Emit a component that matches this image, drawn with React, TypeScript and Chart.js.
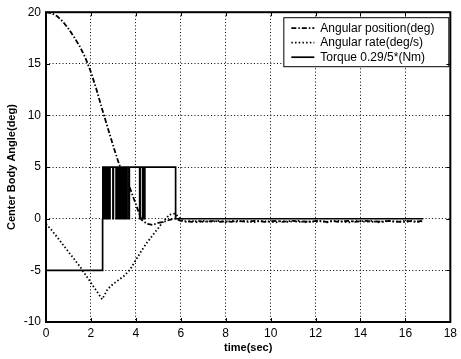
import React, { useEffect, useRef } from 'react';
import { Chart, registerables } from 'chart.js';

Chart.register(...registerables);
Chart.defaults.font.family = '"Liberation Sans", Arial, sans-serif';

// Sample times for the attitude response (s)
const timeSec = [
  0, 0.25, 0.5, 0.75, 1, 1.25, 1.5, 1.75, 2, 2.25, 2.5, 2.75, 3, 3.25, 3.5, 3.75,
  4, 4.25, 4.5, 4.75, 5, 5.25, 5.5, 5.75, 6,
  6.25, 6.5, 6.75, 7, 7.25, 7.5, 7.75, 8, 8.25, 8.5, 8.75, 9, 9.25, 9.5, 9.75,
  10, 10.25, 10.5, 10.75, 11, 11.25, 11.5, 11.75, 12, 12.25, 12.5, 12.75,
  13, 13.25, 13.5, 13.75, 14, 14.25, 14.5, 14.75, 15, 15.25, 15.5, 15.75,
  16, 16.25, 16.5, 16.75,
];

// Angular position (deg)
const positionDeg = [
  20.0, 19.9, 19.6, 19.1, 18.4, 17.6, 16.7, 15.6, 14.2, 12.5, 10.6, 8.8, 7.0, 5.3, 4.1, 2.9,
  1.4, -0.1, -0.5, -0.6, -0.4, -0.3, -0.1, 0.0, -0.2,
  -0.25, -0.3, -0.2, -0.3, -0.25, -0.2, -0.3, -0.25, -0.3, -0.2, -0.25, -0.3, -0.2, -0.25,
  -0.3, -0.25, -0.2, -0.3, -0.25, -0.2, -0.3, -0.25, -0.3, -0.2, -0.25, -0.3, -0.2,
  -0.3, -0.25, -0.2, -0.3, -0.25, -0.2, -0.3, -0.25, -0.3, -0.2, -0.25, -0.3, -0.2,
  -0.25, -0.3, -0.2,
];

// Angular rate (deg/s)
const rateDegS = [
  -0.5, -1.1, -1.8, -2.5, -3.2, -3.9, -4.6, -5.4, -6.2, -7.0, -7.8, -6.8, -6.3, -5.9, -5.5, -4.9,
  -4.0, -3.1, -2.3, -1.6, -0.9, -0.2, 0.4, 0.5, -0.1,
  -0.3, -0.2, -0.35, -0.2, -0.3, -0.25, -0.2, -0.35, -0.2, -0.3, -0.2, -0.25, -0.35, -0.2,
  -0.25, -0.3, -0.35, -0.2, -0.3, -0.25, -0.2, -0.35, -0.25, -0.3, -0.2, -0.35, -0.25,
  -0.2, -0.3, -0.35, -0.2, -0.25, -0.3, -0.2, -0.35, -0.25, -0.2, -0.3, -0.25, -0.35,
  -0.2, -0.3, -0.25,
];

// Scaled torque switching instants (s); each level is held until the next instant
const torqueTimeSec = [
  0, 2.52, 2.53, 2.55, 2.57, 2.59, 2.61, 2.63, 2.65, 2.67, 2.69, 2.71, 2.73, 2.75, 2.77, 2.79,
  2.81, 2.83, 2.85, 2.98, 3.0, 3.12, 3.14, 3.16, 3.18, 3.2, 3.22, 3.24, 3.26, 3.28, 3.3,
  3.35, 3.37, 3.39, 3.41, 3.43, 3.45, 3.47, 3.49, 3.51, 3.53, 3.55, 3.57, 3.59, 3.61,
  3.69, 3.71, 4.17, 4.19, 4.3, 4.32, 4.39, 4.4, 5.77, 16.8,
];
const torqueScaled = [
  -5, 0, 5, 0, 5, 0, 5, 0, 5, 0, 5, 0, 5, 0, 5, 0,
  5, 0, 5, 0, 5, 0, 5, 0, 5, 0, 5, 0, 5, 0, 5,
  0, 5, 0, 5, 0, 5, 0, 5, 0, 5, 0, 5, 0, 5,
  0, 5, 0, 5, 0, 5, 0, 5, 0, 0,
];

const seriesLabels = ['Angular position(deg)', 'Angular rate(deg/s)', 'Torque 0.29/5*(Nm)'];
const xTickValues = [0, 2, 4, 6, 8, 10, 12, 14, 16, 18];
const yTickValues = [-10, -5, 0, 5, 10, 15, 20];

const dashDot = [5, 2, 1.5, 2];
const dotted = [1.5, 2.2];

// Boxed legend in the upper-right corner of the plot area
const legendBoxPlugin = {
  id: 'legendBox',
  afterDatasetsDraw(chart: any) {
    const { ctx, chartArea } = chart;
    const right = chartArea.right - 1;
    const left = right - 166;
    const top = chartArea.top + 5;
    const height = 49;
    ctx.save();
    ctx.fillStyle = '#fff';
    ctx.fillRect(left, top, right - left, height);
    ctx.strokeStyle = '#000';
    ctx.lineWidth = 1;
    ctx.setLineDash([]);
    ctx.strokeRect(left + 0.5, top + 0.5, right - left - 1, height);
    ctx.font = '12px "Liberation Sans", Arial, sans-serif';
    ctx.textBaseline = 'middle';
    ctx.textAlign = 'left';
    ctx.fillStyle = '#000';
    chart.data.datasets.forEach((ds: any, i: number) => {
      const y = top + 11 + i * 14.5;
      ctx.beginPath();
      ctx.setLineDash(ds.borderDash || []);
      ctx.lineWidth = ds.borderWidth;
      ctx.moveTo(left + 8, y);
      ctx.lineTo(left + 31, y);
      ctx.stroke();
      ctx.setLineDash([]);
      ctx.fillText(ds.label, left + 37, y);
    });
    ctx.restore();
  },
};

// Plot frame with inward tick marks on all four sides
const framePlugin = {
  id: 'frame',
  afterDraw(chart: any) {
    const { ctx, chartArea, scales } = chart;
    const { left, right, top, bottom } = chartArea;
    ctx.save();
    ctx.strokeStyle = '#000';
    ctx.setLineDash([]);
    ctx.lineWidth = 1;
    ctx.beginPath();
    xTickValues.forEach((v) => {
      const x = Math.round(scales.x.getPixelForValue(v)) + 0.5;
      ctx.moveTo(x, bottom);
      ctx.lineTo(x, bottom - 4);
      ctx.moveTo(x, top);
      ctx.lineTo(x, top + 4);
    });
    yTickValues.forEach((v) => {
      const y = Math.round(scales.y.getPixelForValue(v)) + 0.5;
      ctx.moveTo(left, y);
      ctx.lineTo(left + 4, y);
      ctx.moveTo(right, y);
      ctx.lineTo(right - 4, y);
    });
    ctx.stroke();
    ctx.lineWidth = 2;
    ctx.strokeRect(left, top, right - left, bottom - top);
    ctx.restore();
  },
};

export default function App() {
  const canvasRef = useRef<HTMLCanvasElement>(null);

  useEffect(() => {
    const canvas = canvasRef.current;
    if (!canvas) return;
    const chart = new Chart(canvas, {
      type: 'line',
      data: {
        datasets: [
          {
            label: seriesLabels[0],
            data: timeSec.map((t, i) => ({ x: t, y: positionDeg[i] })),
            borderColor: '#000',
            borderWidth: 1.8,
            borderDash: dashDot,
            pointRadius: 0,
            fill: false,
          },
          {
            label: seriesLabels[1],
            data: timeSec.map((t, i) => ({ x: t, y: rateDegS[i] })),
            borderColor: '#000',
            borderWidth: 1.8,
            borderDash: dotted,
            pointRadius: 0,
            fill: false,
          },
          {
            label: seriesLabels[2],
            data: torqueTimeSec.map((t, i) => ({ x: t, y: torqueScaled[i] })),
            borderColor: '#000',
            borderWidth: 1.7,
            stepped: 'before',
            pointRadius: 0,
            fill: false,
          },
        ],
      },
      options: {
        animation: false,
        responsive: false,
        devicePixelRatio: 1,
        layout: { padding: { top: 9, right: 6, left: 0, bottom: 0 } },
        plugins: { legend: { display: false }, tooltip: { enabled: false } },
        scales: {
          x: {
            type: 'linear',
            min: 0,
            max: 18,
            afterBuildTicks: (scale: any) => {
              scale.ticks = xTickValues.map((v) => ({ value: v }));
            },
            afterFit: (scale: any) => {
              scale.height = 37;
            },
            ticks: { color: '#000', font: { size: 12 }, padding: 4, maxRotation: 0, autoSkip: false },
            grid: { color: '#000', lineWidth: 1, drawTicks: false },
            border: { display: false, dash: [1, 2.3] },
            title: {
              display: true,
              text: 'time(sec)',
              color: '#000',
              font: { size: 11, weight: 'bold' },
              padding: { top: 0, bottom: 4 },
            },
          },
          y: {
            type: 'linear',
            min: -10,
            max: 20,
            afterBuildTicks: (scale: any) => {
              scale.ticks = yTickValues.map((v) => ({ value: v }));
            },
            afterFit: (scale: any) => {
              scale.width = 46;
            },
            ticks: { color: '#000', font: { size: 12 }, padding: 5, autoSkip: false },
            grid: { color: '#000', lineWidth: 1, drawTicks: false },
            border: { display: false, dash: [1, 2.3] },
            title: {
              display: true,
              text: 'Center Body Angle(deg)',
              color: '#000',
              font: { size: 11, weight: 'bold' },
              padding: { top: 5, bottom: 0 },
            },
          },
        },
      },
      plugins: [legendBoxPlugin, framePlugin],
    });
    return () => chart.destroy();
  }, []);

  return (
    <div style={{ position: 'fixed', left: 0, top: 0, width: 461, height: 359, background: '#fff' }}>
      <canvas ref={canvasRef} width={461} height={359} style={{ display: 'block' }} />
    </div>
  );
}
